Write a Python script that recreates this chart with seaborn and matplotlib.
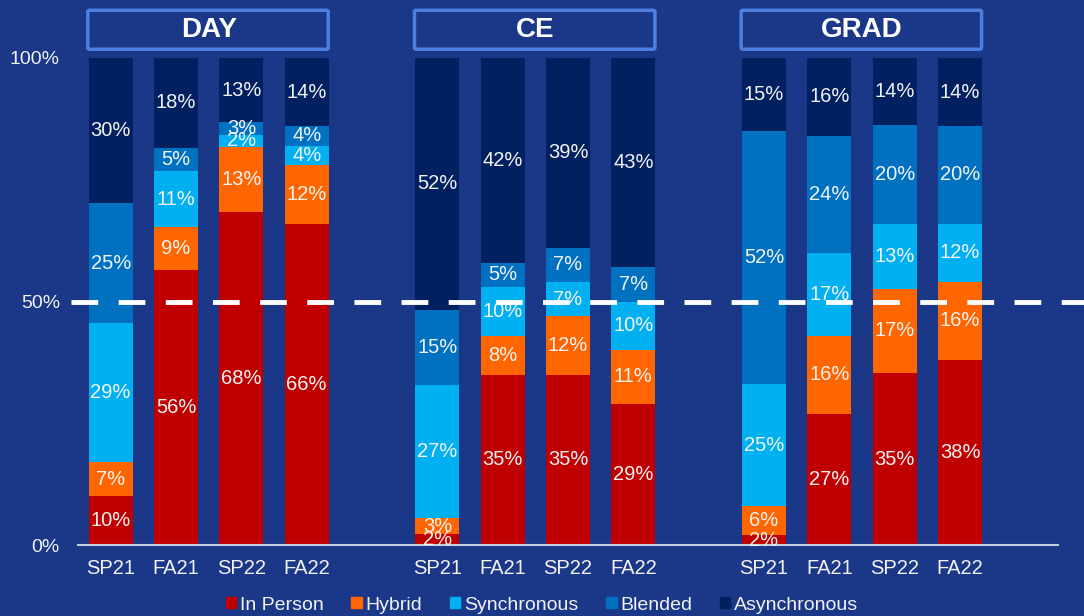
import numpy as np
import pandas as pd
import seaborn as sns
import matplotlib.pyplot as plt
from matplotlib.patches import Patch, FancyBboxPatch

# data (shares in %)
groups = ["DAY", "CE", "GRAD"]
terms = ["SP21", "FA21", "SP22", "FA22"]
modes = ["In Person", "Hybrid", "Synchronous", "Blended", "Asynchronous"]

in_person = [10, 56.4, 68.4, 66, 2.2, 35, 35, 29, 2, 27, 35.3, 38]
hybrid = [7, 8.9, 13.4, 12, 3.4, 8, 12, 11, 6, 16, 17.3, 16]
synchronous = [28.6, 11.4, 2.4, 4, 27.3, 10, 7, 10, 25, 17, 13.3, 12]
blended = [24.6, 4.9, 2.6, 4, 15.4, 5, 7, 7, 52, 24, 20.3, 20]
asynchronous = [29.8, 18.4, 13.2, 14, 51.7, 42, 39, 43, 15, 16, 13.8, 14]

colors = ["#C00000", "#FF6600", "#00B0F0", "#0070C0", "#002060"]
bg = "#1B3787"
txt = "#F2F2F2"

# bar slots, with an empty slot between groups
pos = [0, 1, 2, 3, 5, 6, 7, 8, 10, 11, 12, 13]
xlabels = terms * 3

df = pd.DataFrame({"pos": pos, "In Person": in_person, "Hybrid": hybrid,
                   "Synchronous": synchronous, "Blended": blended,
                   "Asynchronous": asynchronous})
cum = df[modes].cumsum(axis=1) / 100

sns.set_style("white")
plt.rcParams["font.family"] = ["Liberation Sans", "DejaVu Sans"]

fig = plt.figure(figsize=(10.84, 6.16), dpi=100, facecolor=bg)
ax = fig.add_axes([78 / 1084, 1 - 545 / 616, 980 / 1084, 487 / 616])
ax.set_facecolor(bg)

# stacked bars: draw cumulative totals from the top layer down
for i in range(len(modes) - 1, -1, -1):
    d = pd.DataFrame({"pos": df["pos"], "val": cum[modes[i]]})
    sns.barplot(data=d, x="pos", y="val", native_scale=True, color=colors[i],
                saturation=1, width=0.67, errorbar=None, ax=ax, linewidth=0)

# segment labels
for r in range(len(df)):
    for m in modes:
        v = df.loc[r, m]
        top = cum.loc[r, m]
        ax.text(df.loc[r, "pos"], top - v / 200, f"{round(v)}%", ha="center",
                va="center", color=txt, fontsize=14.5)

ax.set_xlim(-0.5, 14.5)
ax.set_ylim(0, 1)
ax.set_xticks(pos)
ax.set_xticklabels(xlabels)
ax.set_yticks([0, 0.5, 1])
ax.set_yticklabels(["0%", "50%", "100%"])
ax.tick_params(axis="x", length=0, pad=10, colors=txt, labelsize=14.5)
ax.tick_params(axis="y", length=0, pad=13, colors=txt, labelsize=14)
ax.set_xlabel("")
ax.set_ylabel("")
for s in ["top", "right", "left"]:
    ax.spines[s].set_visible(False)
ax.spines["bottom"].set_color("#C8CCE0")
ax.spines["bottom"].set_linewidth(1.5)

# 50% reference line
ax.plot([-0.6, 15.1], [0.5, 0.5], color="white", lw=3.5, ls=(0, (5.5, 4.2)),
        clip_on=False, zorder=5, solid_capstyle="butt", dash_capstyle="butt")

# group headers
for g, c in zip(groups, [1.5, 6.5, 11.5]):
    box = FancyBboxPatch((c - 1.85, 1.018), 3.68, 0.08,
                         boxstyle="round,pad=0,rounding_size=0.03",
                         fc=bg, ec="#4D7FE0", lw=2.5, clip_on=False,
                         mutation_aspect=0.1)
    ax.add_patch(box)
    ax.text(c, 1.058, g, ha="center", va="center", color="white",
            fontsize=20, fontweight="bold", clip_on=False)

handles = [Patch(color=c, label=m) for c, m in zip(colors, modes)]
fig.legend(handles=handles, loc="center", bbox_to_anchor=(0.5, 1 - 605 / 616),
           ncol=5, frameon=False, fontsize=14, labelcolor=txt,
           handlelength=0.55, handleheight=0.55, handletextpad=0.2,
           columnspacing=1.4, borderaxespad=0)

fig.savefig("out.png", dpi=100, facecolor=bg)
